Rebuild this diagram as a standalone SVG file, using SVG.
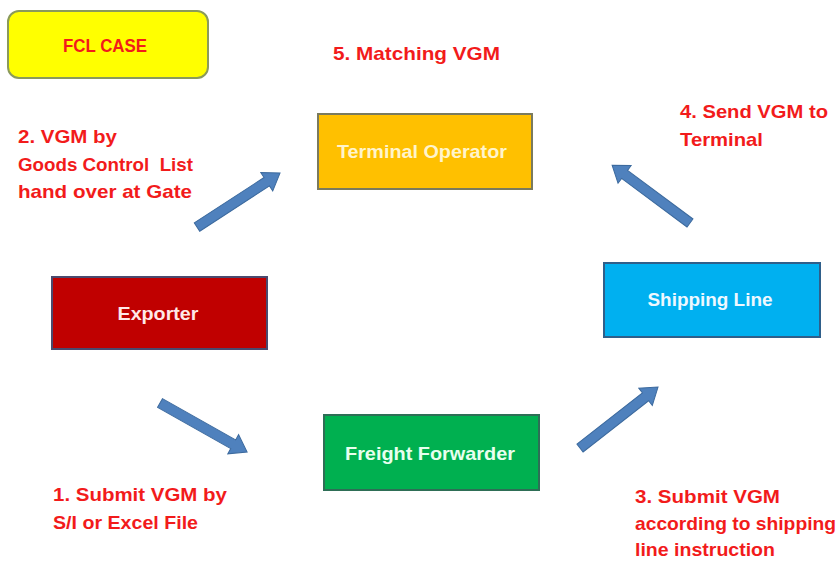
<svg xmlns="http://www.w3.org/2000/svg" xmlns:xlink="http://www.w3.org/1999/xlink" width="840" height="563" viewBox="0 0 840 563">
<style>
.lbl{font-family:"Liberation Sans",Arial,sans-serif;font-weight:bold;font-size:19px;fill:#F21B1B}
.nt{font-family:"Liberation Sans",Arial,sans-serif;font-weight:bold;font-size:19px;fill:#FFFFFF;text-anchor:middle}
.box{stroke-width:2}
.arr{fill:#4F81BD;stroke:#3C6A9E;stroke-width:1}
</style>
<defs>
<path id="blk" d="M0,-5 L84,-5 L84,-11 L100,0 L84,11 L84,5 L0,5 Z"/>
</defs>
<rect width="840" height="563" fill="#FFFFFF"/>
<g id="fcl-case">
<rect x="8" y="11" width="200" height="67" rx="11" fill="#FFFF00" stroke="#8A9A5B" stroke-width="2"/>
<text x="105" y="52" text-anchor="middle" class="lbl" textLength="84" lengthAdjust="spacingAndGlyphs">FCL CASE</text>
</g>
<g id="terminal-operator">
<rect class="box" x="318" y="114" width="214" height="75" fill="#FFC000" stroke="#7A7A5E"/>
<text class="nt" x="422" y="158" textLength="170" lengthAdjust="spacingAndGlyphs" style="fill:#FFF4CC">Terminal Operator</text>
</g>
<g id="exporter">
<rect class="box" x="52" y="277" width="215" height="72" fill="#C00000" stroke="#4A4A6E"/>
<text class="nt" x="158" y="320" textLength="81" lengthAdjust="spacingAndGlyphs" style="fill:#FFE8E8">Exporter</text>
</g>
<g id="freight-forwarder">
<rect class="box" x="324" y="415" width="215" height="75" fill="#00B050" stroke="#2E6E56"/>
<text class="nt" x="430" y="460" textLength="170" lengthAdjust="spacingAndGlyphs" style="fill:#E8FFEE">Freight Forwarder</text>
</g>
<g id="shipping-line">
<rect class="box" x="604" y="263" width="216" height="74" fill="#00B0F0" stroke="#2F5F8A"/>
<text class="nt" x="710" y="306" textLength="125" lengthAdjust="spacingAndGlyphs" style="fill:#EEF8FF">Shipping Line</text>
</g>
<g id="connectors">
<use xlink:href="#blk" class="arr" transform="translate(197,227) rotate(-33) scale(0.99,1)"/>
<use xlink:href="#blk" class="arr" transform="translate(690,223) rotate(-143.4) scale(0.97,1)"/>
<use xlink:href="#blk" class="arr" transform="translate(160,403) rotate(29.4) scale(1,1)"/>
<use xlink:href="#blk" class="arr" transform="translate(580,448) rotate(-38) scale(0.99,1)"/>
</g>
<g id="labels">
<text class="lbl" x="333" y="60" textLength="167" lengthAdjust="spacingAndGlyphs">5. Matching VGM</text>
<text class="lbl" x="680" y="118" textLength="148" lengthAdjust="spacingAndGlyphs">4. Send VGM to</text>
<text class="lbl" x="680" y="146" textLength="83" lengthAdjust="spacingAndGlyphs">Terminal</text>
<text class="lbl" x="18" y="143" textLength="99" lengthAdjust="spacingAndGlyphs">2. VGM by</text>
<text class="lbl" x="18" y="171" textLength="175" lengthAdjust="spacingAndGlyphs" xml:space="preserve">Goods Control  List</text>
<text class="lbl" x="18" y="198" textLength="174" lengthAdjust="spacingAndGlyphs">hand over at Gate</text>
<text class="lbl" x="53" y="501" textLength="174" lengthAdjust="spacingAndGlyphs">1. Submit VGM by</text>
<text class="lbl" x="53" y="529" textLength="145" lengthAdjust="spacingAndGlyphs">S/I or Excel File</text>
<text class="lbl" x="635" y="503" textLength="145" lengthAdjust="spacingAndGlyphs">3. Submit VGM</text>
<text class="lbl" x="635" y="530" textLength="201" lengthAdjust="spacingAndGlyphs">according to shipping</text>
<text class="lbl" x="635" y="556" textLength="140" lengthAdjust="spacingAndGlyphs">line instruction</text>
</g>
</svg>
